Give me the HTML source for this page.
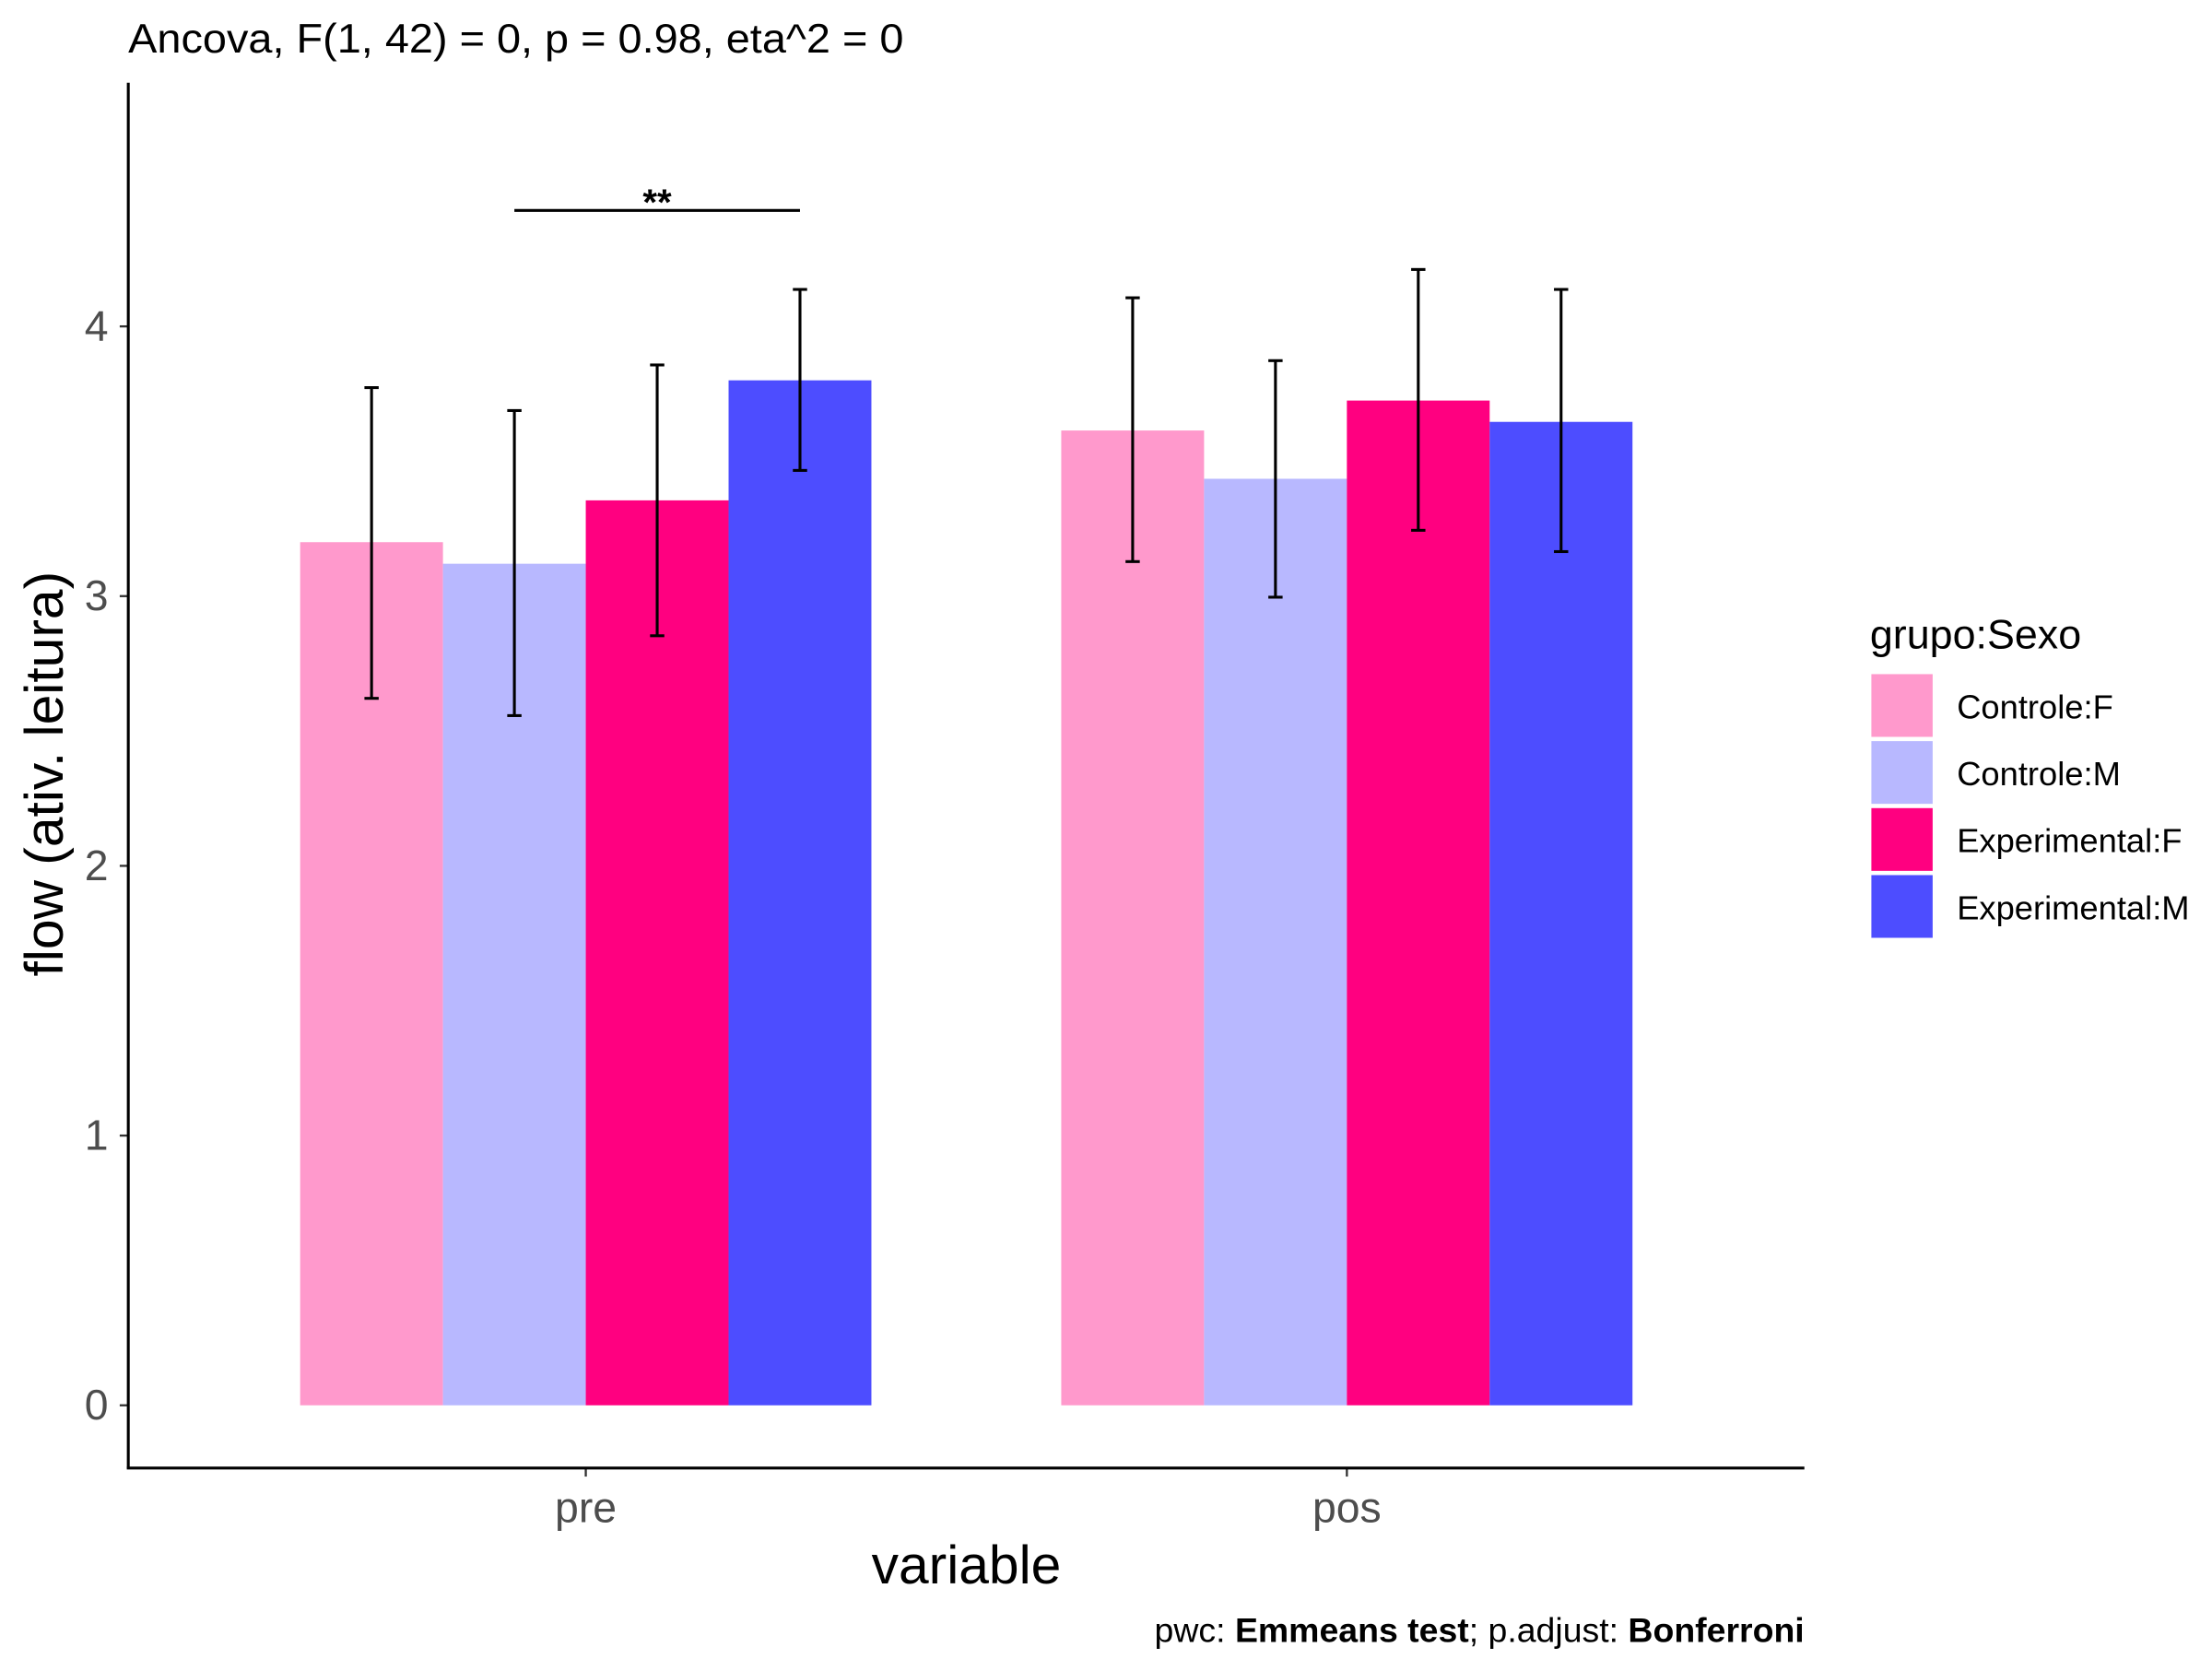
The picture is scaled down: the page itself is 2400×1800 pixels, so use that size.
<!DOCTYPE html>
<html><head><meta charset="utf-8"><style>
html,body{margin:0;padding:0;background:#fff;}
svg{display:block;}
text{font-family:"Liberation Sans",Arial,sans-serif;}
</style></head><body>
<svg id="chart" width="2400" height="1800" viewBox="0 0 1552 1164" preserveAspectRatio="none" xmlns="http://www.w3.org/2000/svg">
<rect width="1552" height="1164" fill="#fff"/>
<text x="90" y="37" font-size="29" textLength="544" lengthAdjust="spacingAndGlyphs" fill="#000">Ancova, F(1, 42) = 0, p = 0.98, eta^2 = 0</text>
<g id="plot"></g>
<line x1="90" y1="58" x2="90" y2="1030.5" stroke="#000" stroke-width="2"/>
<line x1="89" y1="1030" x2="1266" y2="1030" stroke="#000" stroke-width="2"/>
<text x="678" y="1111" font-size="38" text-anchor="middle" fill="#000">variable</text>
<text transform="translate(44,543) rotate(-90)" font-size="38" text-anchor="middle" fill="#000">flow (ativ. leitura)</text>
<text x="1312" y="455" font-size="29" fill="#000">grupo:Sexo</text>
<g id="legend"></g>
<text x="1266" y="1152" font-size="24" text-anchor="end" textLength="456" lengthAdjust="spacingAndGlyphs" fill="#000">pwc: <tspan font-weight="bold">Emmeans test</tspan>; p.adjust: <tspan font-weight="bold">Bonferroni</tspan></text>
</svg>
<script>
const categories = ["pre", "pos"];
const groups = ["Controle:F", "Controle:M", "Experimental:F", "Experimental:M"];
const colors = ["#FF99CC", "#B8B8FF", "#FF0080", "#4D4DFF"];
const means = [[3.20, 3.12, 3.355, 3.80], [3.614, 3.435, 3.725, 3.646]];
const upper = [[3.773, 3.688, 3.857, 4.137], [4.106, 3.873, 4.211, 4.137]];
const lower = [[2.621, 2.557, 2.853, 3.466], [3.128, 2.996, 3.244, 3.165]];
const yTicks = [0, 1, 2, 3, 4];
const bracket = {cat: 0, from: 1, to: 3, y: 4.43, label: "**"};

const NS = "http://www.w3.org/2000/svg";
const y = v => 986 - v * 189.25;
const catCenter = i => 411 + i * 534;
const barW = 100.2;
const barX = (c, g) => catCenter(c) - 2 * barW + g * barW;
const plot = document.getElementById("plot");
function mk(tag, attrs, parent) {
  const e = document.createElementNS(NS, tag);
  for (const k in attrs) e.setAttribute(k, attrs[k]);
  (parent || plot).appendChild(e);
  return e;
}
yTicks.forEach(t => {
  const l = mk("line", {x1: 84, x2: 90, y1: y(t), y2: y(t), stroke: "#333", "stroke-width": 1.5});
  
  
  const tx = mk("text", {x: 76, y: y(t) + 10, "font-size": 30, "text-anchor": "end", fill: "#4d4d4d"});
  tx.textContent = t;
  
  
});
categories.forEach((c, ci) => {
  const l = mk("line", {x1: catCenter(ci), x2: catCenter(ci), y1: 1030, y2: 1036, stroke: "#333", "stroke-width": 1.5});
  
  
  const tx = mk("text", {x: catCenter(ci), y: 1068, "font-size": 30, "text-anchor": "middle", fill: "#4d4d4d"});
  tx.textContent = c;
  
  
  groups.forEach((g, gi) => {
    const r = mk("rect", {x: barX(ci, gi), y: y(means[ci][gi]), width: barW, height: y(0) - y(means[ci][gi]), fill: colors[gi]});
    
    
  });
});
categories.forEach((c, ci) => {
  groups.forEach((g, gi) => {
    const cx = barX(ci, gi) + barW / 2;
    const eg = mk("g", {stroke: "#000", "stroke-width": 2});
    
    
    mk("line", {x1: cx, x2: cx, y1: y(upper[ci][gi]), y2: y(lower[ci][gi])}, eg);
    mk("line", {x1: cx - 5, x2: cx + 5, y1: y(upper[ci][gi]), y2: y(upper[ci][gi])}, eg);
    mk("line", {x1: cx - 5, x2: cx + 5, y1: y(lower[ci][gi]), y2: y(lower[ci][gi])}, eg);
  });
});
const bx1 = barX(bracket.cat, bracket.from) + barW / 2, bx2 = barX(bracket.cat, bracket.to) + barW / 2;
const bl = mk("line", {x1: bx1, x2: bx2, y1: y(bracket.y), y2: y(bracket.y), stroke: "#000", "stroke-width": 2});


const bt = mk("text", {x: (bx1 + bx2) / 2, y: y(bracket.y) + 3, "font-size": 26, "font-weight": "bold", "text-anchor": "middle", fill: "#000"});
bt.textContent = bracket.label;


const leg = document.getElementById("legend");
groups.forEach((g, gi) => {
  const top = 473 + gi * 47;
  const r = mk("rect", {x: 1313, y: top, width: 43, height: 44, fill: colors[gi]}, leg);
  
  
  const t = mk("text", {x: 1373, y: top + 31, "font-size": 23.5, fill: "#000"}, leg);
  t.textContent = g;
  
  
});
</script>
</body></html>
